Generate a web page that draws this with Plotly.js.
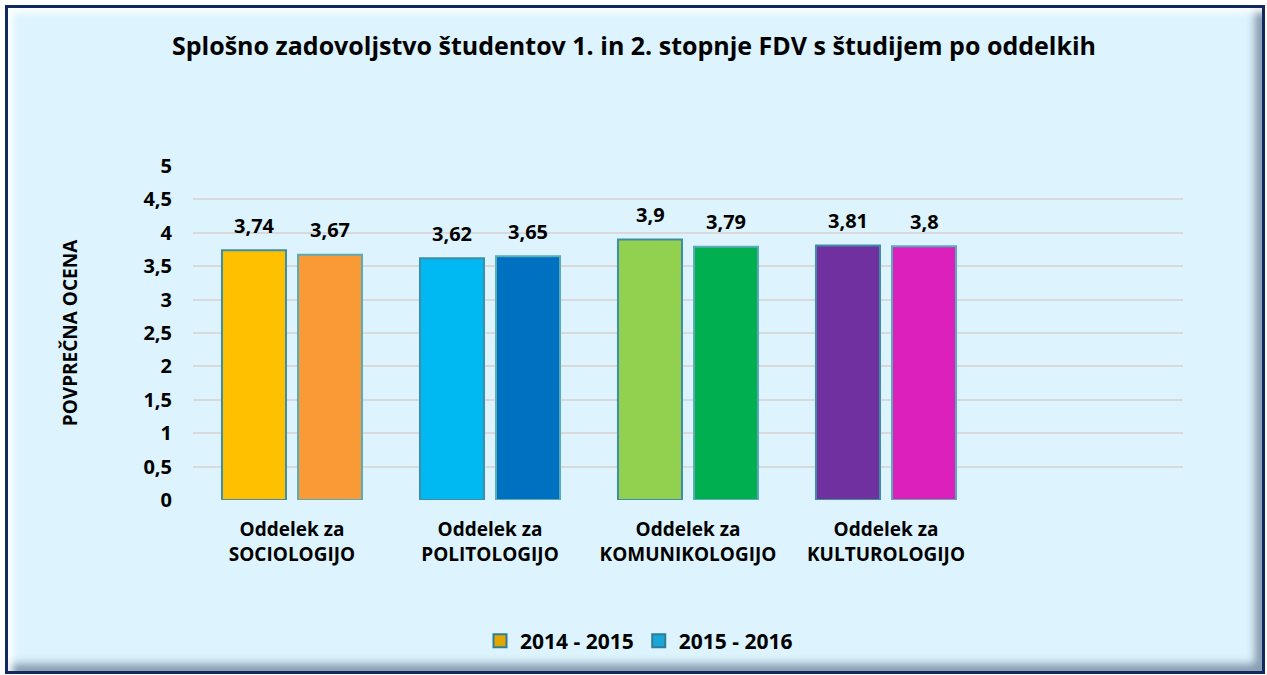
<!DOCTYPE html>
<html>
<head>
<meta charset="utf-8">
<script src="https://cdn.plot.ly/plotly-3.0.1.min.js"></script>
<style>
  html, body { margin:0; padding:0; background:#ffffff; }
  #frame { position:absolute; left:5px; top:5px; width:1254px; height:663px;
    border:3px solid #11295e; background:#ddf4fe;
    box-shadow: inset 5px 5px 7px rgba(255,255,255,0.9), inset -7px -7px 9px rgba(60,80,110,0.55); }
  #chart { position:absolute; left:0; top:0; width:1267px; height:675px; }
</style>
</head>
<body>
<div id="frame"></div>
<div id="chart"></div>
<script>
const categories = ["Oddelek za<br>SOCIOLOGIJO", "Oddelek za<br>POLITOLOGIJO", "Oddelek za<br>KOMUNIKOLOGIJO", "Oddelek za<br>KULTUROLOGIJO"];
const series1Name = "2014 - 2015";
const series2Name = "2015 - 2016";
const series1 = [3.74, 3.62, 3.9, 3.81];
const series2 = [3.67, 3.65, 3.79, 3.8];
const colors1 = ["#ffc000", "#00b8f2", "#92d050", "#7030a0"];
const colors2 = ["#f99a36", "#0070c0", "#00b050", "#dc20bc"];
const yTicks = [0, 0.5, 1, 1.5, 2, 2.5, 3, 3.5, 4, 4.5, 5];

const FONT = "'Open Sans', sans-serif";
const fmt = v => String(v).replace('.', ',');

const traces = [
  { type:'bar', name:series1Name, x:categories, y:series1, showlegend:false,
    marker:{ color:colors1, line:{ color:'#3f8ea6', width:2 } }, hoverinfo:'skip' },
  { type:'bar', name:series2Name, x:categories, y:series2, showlegend:false,
    marker:{ color:colors2, line:{ color:'#5aaab8', width:2 } }, hoverinfo:'skip' },
  { type:'scatter', mode:'markers', name:series1Name, x:[null], y:[null],
    marker:{ symbol:'square', size:13, color:'#e3a800', line:{ color:'#2f7d96', width:2 } } },
  { type:'scatter', mode:'markers', name:series2Name, x:[null], y:[null],
    marker:{ symbol:'square', size:13, color:'#1aa6d6', line:{ color:'#2f7d96', width:2 } } }
];

const annotations = [];
categories.forEach((c, i) => {
  annotations.push({ x:c, y:series1[i], xref:'x', yref:'y', text:fmt(series1[i]),
    showarrow:false, xshift:-38, yshift:25, font:{ family:FONT, size:20, color:'#000', weight:'bold' } });
  annotations.push({ x:c, y:series2[i], xref:'x', yref:'y', text:fmt(series2[i]),
    showarrow:false, xshift:38, yshift:25, font:{ family:FONT, size:20, color:'#000', weight:'bold' } });
});

const layout = {
  width:1267, height:675,
  paper_bgcolor:'rgba(0,0,0,0)', plot_bgcolor:'rgba(0,0,0,0)',
  margin:{ l:193, r:84, t:166, b:175 },
  separators:',.',
  font:{ family:FONT, color:'#000' },
  title:{ text:'Splošno zadovoljstvo študentov 1. in 2. stopnje FDV s študijem po oddelkih',
    x:634/1267, xanchor:'center', xref:'container', y:1-46/675, yanchor:'middle', font:{ family:FONT, size:25, color:'#000', weight:'bold' } },
  barmode:'group', bargap:0.232, bargroupgap:0.158,
  xaxis:{ type:'category', range:[-0.5, 4.5], showgrid:false, zeroline:false, showline:false,
    ticks:'', ticklabelstandoff:16, tickangle:0, tickfont:{ family:FONT, size:19, color:'#000', weight:'bold' }, fixedrange:true },
  yaxis:{ range:[0,5], tickvals:yTicks, ticktext:yTicks.map(fmt),
    showgrid:true, gridcolor:'#d9d9d9', gridwidth:2, zeroline:false, showline:false,
    ticks:'', ticklabelstandoff:20, tickfont:{ family:FONT, size:20, color:'#000', weight:'bold' },
    title:{ text:'POVPREČNA OCENA', standoff:60, font:{ family:FONT, size:19, color:'#000', weight:'bold' } },
    fixedrange:true },
  legend:{ orientation:'h', x:(639-193)/990, xanchor:'center', y:-(641-500)/334, yanchor:'middle',
    font:{ family:FONT, size:21, color:'#000', weight:'bold' }, itemwidth:30, bgcolor:'rgba(0,0,0,0)' },
  annotations:annotations
};

Plotly.newPlot('chart', traces, layout, { displayModeBar:false, staticPlot:true });
</script>
</body>
</html>
